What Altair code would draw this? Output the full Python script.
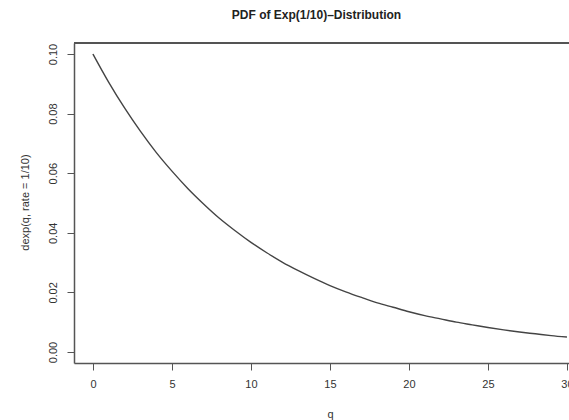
import altair as alt
import pandas as pd

# values at integer q
q_values = list(range(0, 31))
density = [0.1000, 0.0905, 0.0819, 0.0741, 0.0670, 0.0607, 0.0549, 0.0497,
           0.0449, 0.0407, 0.0368, 0.0333, 0.0301, 0.0273, 0.0247, 0.0223,
           0.0202, 0.0183, 0.0165, 0.0150, 0.0135, 0.0122, 0.0111, 0.0100,
           0.0091, 0.0082, 0.0074, 0.0067, 0.0061, 0.0055, 0.0050]
x_ticks = [0, 5, 10, 15, 20, 25, 30]
y_ticks = [0.00, 0.02, 0.04, 0.06, 0.08, 0.10]

df = pd.DataFrame({"q": q_values, "d": density})

FONT = "Liberation Sans"
AX = "#555555"

x_axis = alt.Axis(values=x_ticks, title="q", grid=False, tickSize=7,
                  labelPadding=14, labelBaseline="middle", labelFontSize=11,
                  labelFont=FONT, labelColor="#333333", titleFont=FONT,
                  titleFontSize=11, titleFontWeight="normal", titleColor="#333333",
                  titleX=256, titleY=51, titleBaseline="middle",
                  domainColor=AX, domainWidth=1.5, tickColor=AX, tickWidth=1,
                  labelFlush=False)
y_axis = alt.Axis(values=y_ticks, format=".2f", title="dexp(q, rate = 1/10)",
                  grid=False, tickSize=7, labelPadding=14, labelAngle=270,
                  labelAlign="center", labelBaseline="middle", labelFontSize=11,
                  labelFont=FONT, labelColor="#333333", titleFont=FONT,
                  titleFontSize=11, titleFontWeight="normal", titleColor="#333333",
                  titleAngle=270, titleX=-49, titleY=159, titleBaseline="middle",
                  titleAlign="center",
                  domainColor=AX, domainWidth=1.5, tickColor=AX, tickWidth=1,
                  labelFlush=False)

line = alt.Chart(df).mark_line(color="#444444", strokeWidth=1.4, clip=True,
                               interpolate="monotone").encode(
    x=alt.X("q:Q", scale=alt.Scale(domain=[-1.2, 30.13], nice=False, zero=False),
            axis=x_axis),
    y=alt.Y("d:Q", scale=alt.Scale(domain=[-0.0037, 0.1037], nice=False, zero=False),
            axis=y_axis),
)

top = alt.Chart(df).mark_rule(color=AX, strokeWidth=1.5).encode(
    x=alt.value(0), x2=alt.value(495), y=alt.value(0)
)

chart = alt.layer(line, top).properties(
    width=495, height=320,
    title=alt.TitleParams("PDF of Exp(1/10)\u2013Distribution", font=FONT,
                          fontSize=12, fontWeight="bold", color="#222222",
                          anchor="middle", dx=-5, offset=20),
    autosize=alt.AutoSizeParams(type="none"),
    padding={"left": 74, "top": 43, "right": 0, "bottom": 57},
).configure_view(stroke=None)

chart.save("out.html", embed_options={"renderer": "svg", "actions": False})
